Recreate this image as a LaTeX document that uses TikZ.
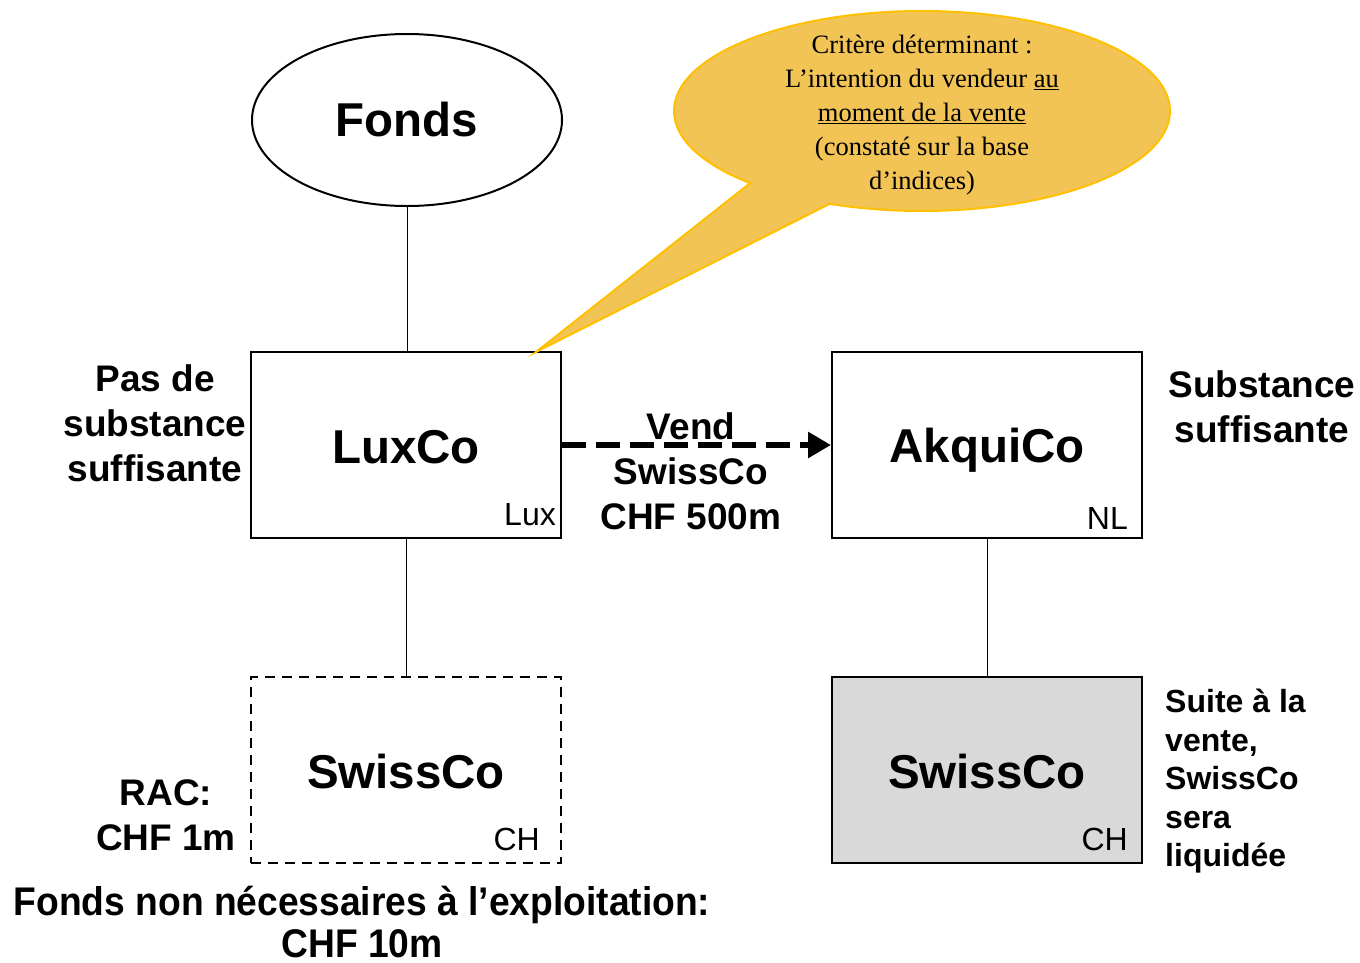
\documentclass[tikz,border=0pt]{standalone}
\usepackage{fontspec}
\setmainfont{Liberation Sans}
\newfontfamily\calloutfont{Liberation Serif}
\usetikzlibrary{arrows.meta,shapes.geometric,shapes.callouts}
\definecolor{bubble}{RGB}{242,196,85}
\definecolor{bubbleedge}{RGB}{255,192,0}
\definecolor{boxgray}{RGB}{217,217,217}
\tikzset{
  entity/.style={draw=black, line width=2pt, minimum width=310pt, minimum height=186pt, inner sep=0pt},
  bigname/.style={font=\fontsize{47.5}{54}\selectfont\bfseries},
  country/.style={font=\fontsize{32}{36}\selectfont, anchor=base east, inner sep=0pt},
  note/.style={font=\fontsize{37}{45}\selectfont\bfseries, align=center, inner sep=0pt},
  sidenote/.style={font=\fontsize{32}{38.5}\selectfont\bfseries, align=left, inner sep=0pt},
  link/.style={draw=black, line width=1pt},
}
\begin{document}
\begin{tikzpicture}[x=1pt,y=-1pt]
\useasboundingbox (0,0) rectangle (1360,962);

% entities
\node[draw=black, line width=2pt, ellipse, minimum width=310pt, minimum height=172pt, inner sep=0pt] (fonds) at (407,120) {};
\node[bigname] at (407,120) {Fonds};

\node[entity] (lux) at (406,445) {};
\node[bigname] at (406,447) {LuxCo};
\node[country] (luxtag) at (556,525) {Lux};

\node[entity] (akq) at (987,445) {};
\node[bigname] at (987,450) {AkquiCo};
\node[country] (nltag) at (1128,529) {NL};

\node[entity, dash pattern=on 10pt off 7pt] (swl) at (406,770) {};
\node[bigname] at (406,772) {SwissCo};
\node[country] (chl) at (540,850) {CH};

\node[entity, fill=boxgray] (swr) at (987,770) {};
\node[bigname] at (987,772) {SwissCo};
\node[country] (chr) at (1128,850) {CH};

% ownership links
\draw[link] (fonds.south) -- (lux.north -| fonds.south);
\draw[link] (lux.south) -- (swl.north);
\draw[link] (akq.south) -- (swr.north);

% sale
\draw[line width=6pt, dash pattern=on 24pt off 10pt, -{Triangle[length=23pt,width=25pt]}] (lux.east) -- (akq.west);
\node[note] (sale) at (691,471) {Vend\\SwissCo\\CHF 500m};

% side notes
\node[note] (luxnote) at (155,423) {Pas de\\substance\\suffisante};
\node[note] (akqnote) at (1262,407) {Substance\\suffisante};
\node[note] (rac) at (166,815) {RAC:\\CHF 1m};
\node[sidenote, anchor=north west] (liq) at (1165,689) {Suite à la\\vente,\\SwissCo\\sera\\liquidée};
\node[font=\fontsize{40}{42}\selectfont\bfseries, align=center, inner sep=0pt] (excess) at (362,922)
  {\scalebox{0.93}[1]{Fonds non nécessaires à l’exploitation:}\\\scalebox{0.93}[1]{CHF 10m}};

% callout
\coordinate (tip) at (536,352);
\node[ellipse callout, callout absolute pointer=(tip), callout pointer arc=22,
      draw=bubbleedge, line width=2pt, fill=bubble,
      minimum width=496pt, minimum height=200pt, inner sep=0pt] (bubble) at (922,111) {};
\node[font=\calloutfont\fontsize{26.5}{34}\selectfont, align=center, inner sep=0pt] (bubbletext) at (922,115)
  {Critère déterminant :\\L’intention du vendeur \underline{au}\\\underline{moment de la vente}\\(constaté sur la base\\d’indices)};
\end{tikzpicture}
\end{document}
